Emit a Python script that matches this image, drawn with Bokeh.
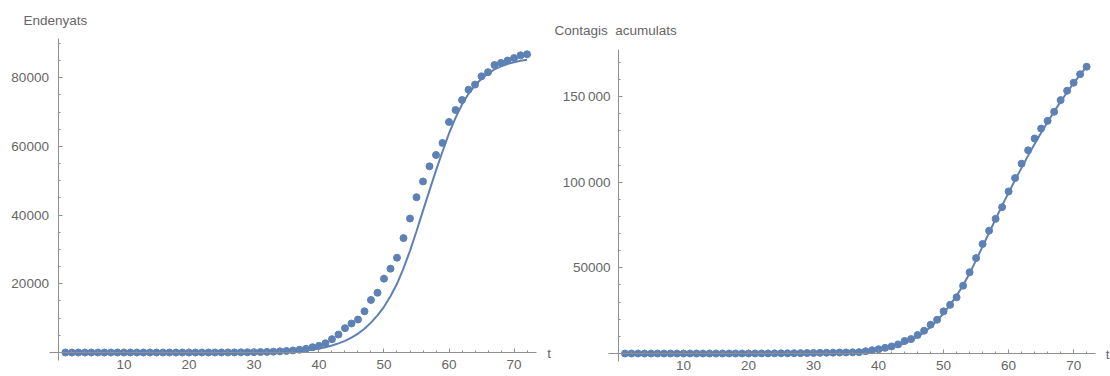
from bokeh.plotting import figure
from bokeh.layouts import row
from bokeh.models import Range1d, FixedTicker, Label
from bokeh.embed import file_html
from bokeh.resources import INLINE

# ---------------- data ----------------
t = list(range(1, 73))

# left panel: "Endenyats" (dots = data, line = fitted curve)
left_points = [0] * 20 + [0, 0, 5, 10, 15, 25, 35, 50, 70, 95,
               130, 180, 250, 340, 450, 600, 800, 1080, 1540, 1950,
               2700, 3880, 5240, 7080, 8440, 9600, 12000, 15300, 17400, 21500,
               24400, 27600, 33300, 39000, 45200, 49800, 54200, 57500, 61000, 67100,
               70600, 73500, 76500, 78000, 80400, 81600, 83700, 84300, 85000, 85700,
               86500, 86800]
left_fit = [0] * 20 + [1, 2, 3, 5, 8, 12, 17, 24, 32, 42,
            55, 80, 110, 160, 230, 320, 450, 620, 850, 1150,
            1550, 2050, 2650, 3400, 4350, 5500, 6900, 8700, 10800, 13300,
            16400, 20000, 24500, 29600, 35300, 41300, 47200, 53000, 58500, 63800,
            68300, 72200, 75300, 77800, 79700, 81200, 82400, 83300, 84000, 84500,
            84900, 85200]

# right panel: "Contagis acumulats"
right_points = [0] * 15 + [5, 10, 15, 20, 30, 40, 55, 70, 90, 110,
                140, 170, 210, 260, 320, 380, 440, 500, 560, 620,
                680, 800, 1300, 1900, 2500, 3300, 4100, 5300, 7300, 8400,
                10800, 13300, 16800, 19700, 24600, 28400, 32800, 39600, 47400, 55700,
                63900, 71700, 78600, 85400, 94600, 102400, 110800, 118600, 125500, 131300,
                135800, 141100, 147900, 153400, 158100, 163000, 167400]
right_fit = [0] * 15 + [3, 5, 8, 12, 17, 25, 35, 48, 65, 85,
             110, 140, 175, 215, 260, 310, 370, 440, 520, 620,
             740, 920, 1180, 1550, 2050, 2700, 3550, 4650, 6000, 7700,
             9800, 12400, 15500, 19200, 23500, 28400, 33800, 39800, 46800, 54500,
             62500, 70500, 78500, 86300, 93900, 101300, 108500, 115500, 122300, 128800,
             135100, 141200, 147000, 152500, 157800, 162800, 167500]

x_ticks = [10, 20, 30, 40, 50, 60, 70]
x_minor = [2, 4, 6, 8, 12, 14, 16, 18, 22, 24, 26, 28, 32, 34, 36, 38, 42, 44, 46, 48,
           52, 54, 56, 58, 62, 64, 66, 68, 72]
left_y_ticks = [20000, 40000, 60000, 80000]
left_y_labels = ["20000", "40000", "60000", "80000"]
left_y_minor = [5000, 10000, 15000, 25000, 30000, 35000, 45000, 50000, 55000,
                65000, 70000, 75000, 85000, 90000]
right_y_ticks = [50000, 100000, 150000]
right_y_labels = ["50000", "100\u2009000", "150\u2009000"]
right_y_minor = [10000, 20000, 30000, 40000, 60000, 70000, 80000, 90000,
                 110000, 120000, 130000, 140000, 160000, 170000]

left_title = "Endenyats"
right_title = "Contagis\u00a0 acumulats"
x_name = "t"

# ---------------- style ----------------
BLUE = "#5E81B5"
AXIS = "#8f8f8f"
TEXT = "#666666"
FONT = "Liberation Sans"
FSIZE = "13.5px"
H = 376


def make_panel(points, fit, xr, yr, xb, yb, yt, ylab, yminor, title, title_xy, t_xy,
               width, ystandoff):
    p = figure(width=width, height=H, output_backend="svg", toolbar_location=None,
               title=None, x_range=Range1d(*xr), y_range=Range1d(*yr),
               min_border_left=0, min_border_right=0, min_border_top=0,
               min_border_bottom=0)
    p.outline_line_color = None
    p.grid.visible = False
    p.background_fill_color = "white"
    p.border_fill_color = "white"

    p.line(t, fit, line_color=BLUE, line_width=2)
    p.scatter(t, points, size=7, fill_color=BLUE, line_color=BLUE)

    xa = p.xaxis[0]
    xa.fixed_location = 0
    xa.bounds = xb
    xa.ticker = FixedTicker(ticks=x_ticks, minor_ticks=x_minor)
    ya = p.yaxis[0]
    ya.fixed_location = 0
    ya.bounds = yb
    ya.ticker = FixedTicker(ticks=yt, minor_ticks=yminor)
    ya.major_label_overrides = {v: s for v, s in zip(yt, ylab)}
    for ax in (xa, ya):
        ax.axis_line_color = AXIS
        ax.axis_line_width = 1
        ax.major_tick_line_color = AXIS
        ax.minor_tick_line_color = AXIS
        ax.major_tick_in = 4
        ax.major_tick_out = 0
        ax.minor_tick_in = 2
        ax.minor_tick_out = 0
        ax.major_label_text_color = TEXT
        ax.major_label_text_font = FONT
        ax.major_label_text_font_size = FSIZE
    xa.major_label_standoff = 7
    ya.major_label_standoff = ystandoff

    p.add_layout(Label(x=title_xy[0], y=title_xy[1], text=title, text_font=FONT,
                       text_font_size=FSIZE, text_color=TEXT, text_align="left",
                       text_baseline="middle"))
    p.add_layout(Label(x=t_xy[0], y=t_xy[1], text=x_name, text_font=FONT,
                       text_font_size=FSIZE, text_color=TEXT, text_align="left",
                       text_baseline="middle"))
    return p


p1 = make_panel(left_points, left_fit, (-8.982, 76.07), (-6986, 102467),
                (-1.45, 73.45), (-2330, 91400),
                left_y_ticks, left_y_labels, left_y_minor,
                left_title, (-5.44, 96645), (75.1, -291), 553, 10)
p2 = make_panel(right_points, right_fit, (-9.997, 75.67), (-13425, 206046),
                (-1.5, 73.3), (-4670, 177440),
                right_y_ticks, right_y_labels, right_y_minor,
                right_title, (-9.84, 188535), (74.95, -292), 557, 8)

layout = row(p1, p2)
open("out.html", "w").write(file_html(layout, INLINE))
